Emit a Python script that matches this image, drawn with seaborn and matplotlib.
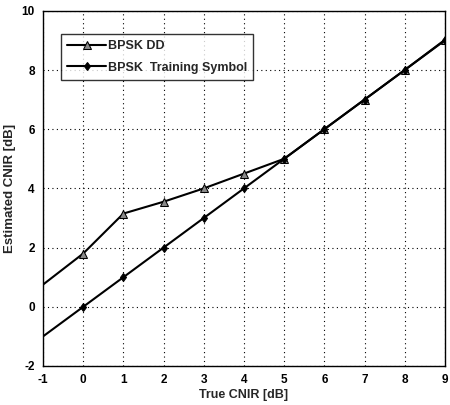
import numpy as np
import pandas as pd
import matplotlib
matplotlib.use("Agg")
import matplotlib.pyplot as plt
import seaborn as sns

# data
true_cnir = [-1, 0, 1, 2, 3, 4, 5, 6, 7, 8, 9]
est_dd = [0.75, 1.8, 3.15, 3.55, 4.0, 4.5, 5.0, 6.0, 7.0, 8.0, 9.02]
est_train = [-1, 0, 1, 2, 3, 4, 5, 6, 7, 8, 9]
x_ticks = [-1, 0, 1, 2, 3, 4, 5, 6, 7, 8, 9]
y_ticks = [-2, 0, 2, 4, 6, 8, 10]

sns.set_style("white")
plt.rcParams['font.family'] = ['Liberation Sans', 'DejaVu Sans']
plt.rcParams['font.weight'] = 'bold'
plt.rcParams['axes.unicode_minus'] = False

df = pd.DataFrame({'x': true_cnir, 'dd': est_dd, 'train': est_train})

fig = plt.figure(figsize=(4.5, 4.05), dpi=100)
ax = fig.add_axes([0.0956, 0.0963, 0.893, 0.877])

sns.lineplot(data=df, x='x', y='dd', ax=ax, color='black', lw=1.5,
             marker='^', markersize=6, markerfacecolor='#8a8a8a',
             markeredgecolor='black', markevery=list(range(1, 11)),
             label='BPSK DD')
sns.lineplot(data=df, x='x', y='train', ax=ax, color='black', lw=1.5,
             marker='d', markersize=4.5, markerfacecolor='black',
             markeredgecolor='black', markevery=list(range(1, 11)),
             label='BPSK  Training Symbol')

ax.set_xlim(-1, 9)
ax.set_ylim(-2, 10)
ax.set_xticks(x_ticks)
ax.set_yticks(y_ticks)
ax.tick_params(direction='in', length=3, labelsize=8.5, colors='black', pad=6)
for lab in ax.get_xticklabels() + ax.get_yticklabels():
    lab.set_fontweight('bold')
ax.grid(True, color='black', linestyle=(0, (1, 3)), lw=0.8)
for s in ax.spines.values():
    s.set_color('black')
    s.set_linewidth(1.0)

ax.set_xlabel('True CNIR [dB]', fontsize=9, fontweight='bold', labelpad=2)
ax.set_ylabel('Estimated CNIR [dB]', fontsize=9.5, fontweight='bold', labelpad=4)

leg = ax.legend(loc='upper left', bbox_to_anchor=(0.045, 0.935),
                borderaxespad=0, frameon=True, fancybox=False,
                edgecolor='black', prop={'size': 9, 'weight': 'bold'},
                handlelength=3.1, borderpad=0.5, labelspacing=0.75,
                handletextpad=0.15)
leg.get_frame().set_linewidth(1.0)

fig.savefig('out.png', dpi=100)
